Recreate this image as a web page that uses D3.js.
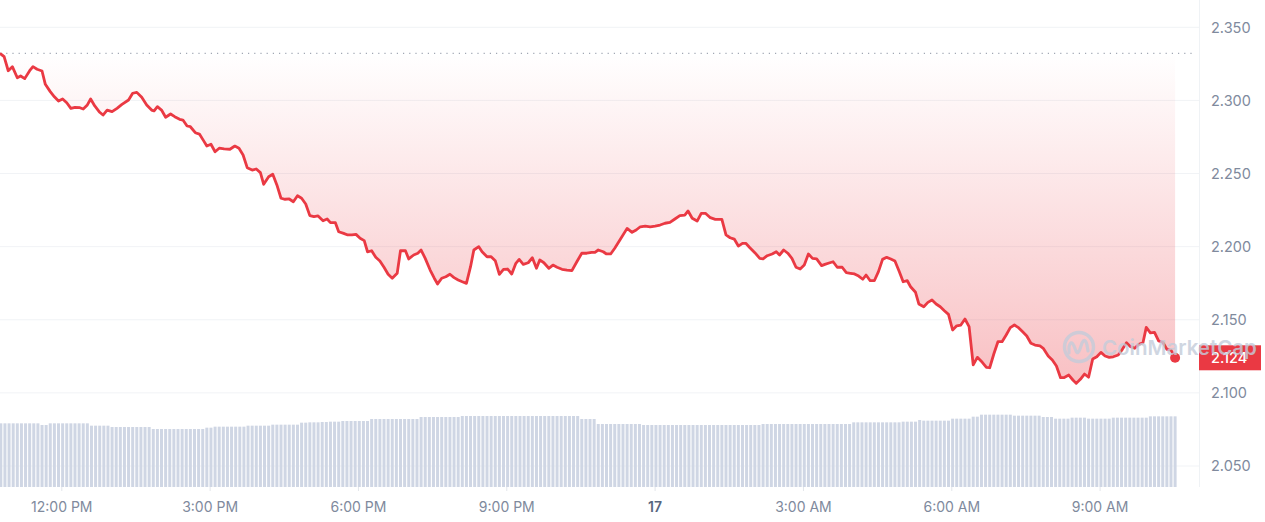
<!DOCTYPE html>
<html>
<head>
<meta charset="utf-8">
<script src="https://cdn.jsdelivr.net/npm/d3@7"></script>
<style>
body{margin:0;background:#fff;}
svg{display:block;font-family:Inter,"Noto Sans",sans-serif;}
</style>
</head>
<body>
<svg id="chart" width="1265" height="522"></svg>
<script>
let startTime = new Date(2024, 11, 16, 10, 45);
let endTime = new Date(2024, 11, 17, 11, 0);
let openPrice = 2.3322;
let lastPrice = 2.124;
let priceTicks = [2.05, 2.10, 2.15, 2.20, 2.25, 2.30, 2.35];

// minutes after 10:45 AM
let priceMinutes = [
    0,5,10,15,21,25,30,36,40,45,51,55,61,66,71,76,81,86,91,97,
    101,106,110,115,121,125,130,136,142,148,156,161,166,172,178,184,187,191,196,201,
    207,212,218,222,227,231,237,242,247,251,256,261,266,272,279,285,290,295,300,306,
    311,316,320,326,331,336,341,346,351,356,361,366,371,376,381,386,392,397,401,407,
    411,417,422,427,432,437,442,446,451,456,461,466,471,476,482,486,492,496,502,507,
    511,516,522,527,531,536,541,546,551,556,561,566,571,575,581,585,591,596,601,606,
    611,616,621,626,630,635,641,646,651,655,660,666,671,676,682,688,694,700,706,712,
    718,722,726,732,736,741,746,753,761,767,772,777,783,789,795,801,807,813,819,825,
    831,835,840,846,851,856,862,868,876,881,886,891,896,901,905,910,916,922,926,931,
    937,942,946,951,956,961,966,971,976,981,986,991,997,1001,1007,1011,1016,1022,1027,1032,
    1037,1042,1047,1051,1056,1061,1066,1071,1076,1081,1086,1091,1096,1101,1105,1111,1115,1121,1126,1131,
    1136,1141,1146,1151,1156,1161,1166,1171,1176,1181,1186,1192,1197,1201,1206,1211,1216,1221,1226,1231,
    1236,1241,1246,1251,1256,1262,1266,1272,1277,1282,1287,1291,1297,1302,1306,1311,1316,1321,1326,1331,
    1336,1341,1346,1351,1357,1362,1367,1372,1377,1382,1387,1391,1396,1401,1406,1411,1416,1421,1426
];
let prices = [
    2.3322,2.3299,2.3203,2.3231,2.3155,2.3167,2.3149,2.3203,2.3231,2.3213,2.3201,2.3110,2.3060,2.3025,2.2996,2.3010,2.2984,2.2946,2.2953,2.2950,
    2.2941,2.2969,2.3010,2.2962,2.2919,2.2900,2.2934,2.2923,2.2946,2.2973,2.3003,2.3049,2.3055,2.3021,2.2969,2.2934,2.2928,2.2957,2.2934,2.2885,
    2.2907,2.2889,2.2871,2.2866,2.2825,2.2820,2.2779,2.2770,2.2725,2.2688,2.2700,2.2649,2.2673,2.2668,2.2666,2.2688,2.2673,2.2627,2.2540,2.2524,
    2.2531,2.2506,2.2426,2.2478,2.2495,2.2422,2.2331,2.2324,2.2326,2.2307,2.2348,2.2331,2.2292,2.2212,2.2205,2.2210,2.2177,2.2189,2.2164,2.2164,
    2.2102,2.2091,2.2080,2.2080,2.2084,2.2057,2.2041,2.1965,2.1972,2.1927,2.1902,2.1859,2.1811,2.1784,2.1818,2.1972,2.1972,2.1916,2.1943,2.1955,
    2.1977,2.1920,2.1840,2.1784,2.1745,2.1784,2.1794,2.1811,2.1788,2.1772,2.1760,2.1749,2.1863,2.1977,2.2000,2.1965,2.1931,2.1931,2.1904,2.1811,
    2.1845,2.1847,2.1813,2.1886,2.1913,2.1879,2.1890,2.1924,2.1852,2.1909,2.1890,2.1852,2.1874,2.1859,2.1845,2.1840,2.1836,2.1897,2.1955,2.1955,
    2.1961,2.1961,2.1977,2.1965,2.1950,2.1950,2.1989,2.2052,2.2125,2.2098,2.2114,2.2136,2.2141,2.2136,2.2141,2.2148,2.2160,2.2166,2.2189,2.2212,
    2.2216,2.2244,2.2194,2.2175,2.2228,2.2228,2.2198,2.2187,2.2187,2.2080,2.2061,2.2052,2.2004,2.2023,2.2023,2.1993,2.1959,2.1920,2.1916,2.1938,
    2.1950,2.1965,2.1943,2.1977,2.1955,2.1920,2.1859,2.1847,2.1874,2.1950,2.1920,2.1916,2.1870,2.1879,2.1890,2.1897,2.1859,2.1859,2.1822,2.1818,
    2.1813,2.1799,2.1777,2.1806,2.1767,2.1767,2.1829,2.1913,2.1927,2.1916,2.1902,2.1833,2.1760,2.1767,2.1726,2.1688,2.1608,2.1589,2.1619,2.1635,
    2.1608,2.1589,2.1562,2.1537,2.1430,2.1459,2.1464,2.1505,2.1453,2.1191,2.1243,2.1209,2.1175,2.1172,2.1266,2.1350,2.1350,2.1396,2.1446,2.1464,
    2.1446,2.1418,2.1389,2.1339,2.1327,2.1321,2.1305,2.1252,2.1225,2.1184,2.1104,2.1104,2.1122,2.1088,2.1065,2.1093,2.1129,2.1107,2.1232,2.1247,
    2.1277,2.1252,2.1243,2.1247,2.1259,2.1298,2.1343,2.1316,2.1305,2.1332,2.1343,2.1448,2.1411,2.1414,2.1355,2.1346,2.1298,2.1293,2.1240
];

// volume (millions), one bar every 5 minutes starting 10:46 AM
let volumes = [
    191,191,191,191,191,191,191,191,191,191,186,186,
    191,191,191,191,191,191,191,191,191,191,184,184,
    184,184,184,180,180,180,180,180,180,180,180,180,
    180,174,174,174,174,174,174,174,174,174,174,174,
    174,174,178,178,181,181,181,181,181,181,181,181,
    184,184,184,184,184,184,187,187,187,187,187,187,
    187,193,193,194,194,194,195,195,196,196,196,198,
    198,198,198,198,198,198,204,204,204,204,204,204,
    204,204,204,204,204,204,210,210,210,210,210,210,
    210,210,210,210,213,213,213,213,213,213,213,213,
    213,213,213,213,213,213,213,213,213,213,213,213,
    213,213,213,213,213,213,213,213,213,204,204,204,
    204,189,189,189,189,189,189,189,189,189,189,189,
    186,186,186,186,186,186,186,186,186,186,186,186,
    186,186,186,186,186,186,186,186,186,186,186,186,
    186,186,186,186,186,189,189,189,189,189,189,189,
    189,189,189,189,189,189,189,189,189,189,189,189,
    189,189,189,194,194,194,194,194,194,194,194,194,
    194,194,194,196,196,196,196,201,199,199,199,199,
    199,199,199,205,205,205,205,205,211,211,217,217,
    217,217,217,217,217,217,214,214,214,214,214,214,
    214,210,210,210,205,205,205,205,208,208,208,208,
    205,205,205,205,205,205,208,208,208,208,208,208,
    208,208,208,212,212,212,212,212,212,212
];

let svg = d3.select("#chart");
let plotRight = 1199;

let x = d3.scaleTime().domain([startTime, endTime]).range([0, plotRight]);
let y = d3.scaleLinear().domain([2.05, 2.35]).range([466, 27.3]);
let yVol = d3.scaleLinear().domain([0, 300]).range([487, 387]);

let points = prices.map(function(p, i) {
    return {t: d3.timeMinute.offset(startTime, priceMinutes[i]), p: p};
});
let bars = volumes.map(function(v, i) {
    return {t: d3.timeMinute.offset(startTime, 1 + 5 * i), v: v};
});

let defs = svg.append("defs");
let grad = defs.append("linearGradient")
    .attr("id", "areaFill")
    .attr("gradientUnits", "userSpaceOnUse")
    .attr("x1", 0).attr("x2", 0)
    .attr("y1", y(openPrice)).attr("y2", y(2.105));
grad.append("stop").attr("offset", 0).attr("stop-color", "#ea3943").attr("stop-opacity", 0);
grad.append("stop").attr("offset", 1).attr("stop-color", "#ea3943").attr("stop-opacity", 0.32);

// grid
svg.append("g")
    .selectAll("line")
    .data(priceTicks)
    .enter().append("line")
    .attr("x1", 0).attr("x2", plotRight)
    .attr("y1", function(d) { return y(d); })
    .attr("y2", function(d) { return y(d); })
    .attr("stroke", "#f1f3f6")
    .attr("stroke-width", 1);

svg.append("line")
    .attr("x1", plotRight + 0.5).attr("x2", plotRight + 0.5)
    .attr("y1", 0).attr("y2", 487)
    .attr("stroke", "#eff2f5");

// volume
svg.append("g")
    .selectAll("rect")
    .data(bars)
    .enter().append("rect")
    .attr("x", function(d) { return x(d.t) - 1.5; })
    .attr("width", 3)
    .attr("y", function(d) { return yVol(d.v); })
    .attr("height", function(d) { return yVol(0) - yVol(d.v); })
    .attr("fill", "#cfd6e4");

// area + line
let area = d3.area()
    .x(function(d) { return x(d.t); })
    .y0(y(openPrice))
    .y1(function(d) { return y(d.p); });

svg.append("path")
    .datum(points)
    .attr("d", area)
    .attr("fill", "url(#areaFill)");

svg.append("line")
    .attr("x1", 0).attr("x2", plotRight - 4)
    .attr("y1", y(openPrice)).attr("y2", y(openPrice))
    .attr("stroke", "#a1a7b3")
    .attr("stroke-width", 1.2)
    .attr("stroke-dasharray", "1.2,5");

let line = d3.line()
    .x(function(d) { return x(d.t); })
    .y(function(d) { return y(d.p); });

svg.append("path")
    .datum(points)
    .attr("d", line)
    .attr("fill", "none")
    .attr("stroke", "#ea3943")
    .attr("stroke-width", 2.8)
    .attr("stroke-linejoin", "round");

let last = points[points.length - 1];
svg.append("circle")
    .attr("cx", x(last.t))
    .attr("cy", y(last.p))
    .attr("r", 5)
    .attr("fill", "#ea3943");

// y labels
svg.append("g")
    .selectAll("text")
    .data(priceTicks)
    .enter().append("text")
    .attr("x", 1211)
    .attr("y", function(d) { return y(d); })
    .attr("dy", "0.36em")
    .attr("fill", "#808a9d")
    .style("font-size", "14.5px")
    .text(function(d) { return d3.format(".3f")(d); });

// x axis
let xTicks = x.ticks(d3.timeHour.every(3));
let xAxis = svg.append("g");
xAxis.selectAll("line")
    .data(xTicks)
    .enter().append("line")
    .attr("x1", function(d) { return x(d); })
    .attr("x2", function(d) { return x(d); })
    .attr("y1", 487).attr("y2", 491)
    .attr("stroke", "#e3e6eb");
xAxis.selectAll("text")
    .data(xTicks)
    .enter().append("text")
    .attr("x", function(d) { return x(d); })
    .attr("y", 512)
    .attr("text-anchor", "middle")
    .attr("fill", function(d) { return d.getHours() === 0 ? "#58667e" : "#808a9d"; })
    .style("font-size", "14px")
    .style("font-weight", function(d) { return d.getHours() === 0 ? 600 : 400; })
    .text(function(d) {
        return d.getHours() === 0 ? d3.timeFormat("%-d")(d) : d3.timeFormat("%-I:%M %p")(d);
    });

// price tag
let tagY = y(lastPrice);
svg.append("rect")
    .attr("x", plotRight)
    .attr("y", tagY - 12.5)
    .attr("width", 62)
    .attr("height", 25)
    .attr("fill", "#ea3943");
svg.append("text")
    .attr("x", 1211)
    .attr("y", tagY)
    .attr("dy", "0.36em")
    .attr("fill", "#fff")
    .style("font-size", "14.5px")
    .style("font-weight", 500)
    .text(d3.format(".3f")(lastPrice));

// watermark
let wm = svg.append("g")
    .attr("opacity", 0.8);
wm.append("circle")
    .attr("cx", 1079).attr("cy", 347).attr("r", 14.5)
    .attr("fill", "none")
    .attr("stroke", "#c4ccda")
    .attr("stroke-width", 3.4);
wm.append("path")
    .attr("d", "M1069,353 L1069,347 Q1071,339 1074,346 L1076,351 Q1078,355 1080,349 L1082,343 Q1085,337 1087,345 L1088,351")
    .attr("fill", "none")
    .attr("stroke", "#c4ccda")
    .attr("stroke-width", 3.2)
    .attr("stroke-linecap", "round")
    .attr("stroke-linejoin", "round");
wm.append("text")
    .attr("x", 1102)
    .attr("y", 355)
    .attr("fill", "#c4ccda")
    .style("font-size", "20.5px")
    .style("font-weight", 600)
    .text("CoinMarketCap");
</script>
</body>
</html>
